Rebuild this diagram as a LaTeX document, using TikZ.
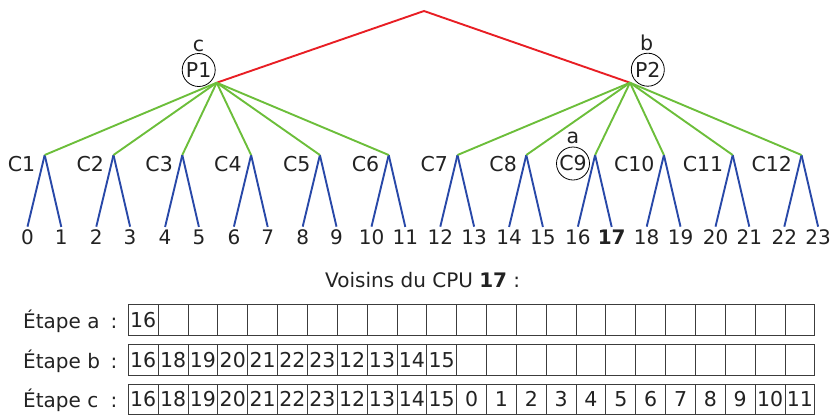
\documentclass[tikz,border=0pt]{standalone}
\usepackage{fontspec}
\setmainfont{DejaVu Sans}
\begin{document}
\begin{tikzpicture}[x=1pt,y=-1pt]
\definecolor{redline}{RGB}{232,30,36}
\definecolor{greenline}{RGB}{108,190,58}
\definecolor{blueline}{RGB}{40,72,168}
\definecolor{txt}{RGB}{34,34,34}
\definecolor{gridc}{RGB}{60,60,60}
\tikzset{
 treefont/.style={font=\fontsize{20.5}{25}\selectfont},
 lbl/.style={treefont, text=txt, inner sep=0pt, outer sep=0pt},
 leaf/.style={lbl, font=\fontsize{20}{24}\selectfont, inner sep=2.5pt, anchor=base},
 redl/.style={draw=redline, line width=1.9pt},
 greenl/.style={draw=greenline, line width=1.9pt},
 bluel/.style={draw=blueline, line width=1.9pt},
 ring/.style={circle, draw=black, line width=0.8pt, minimum size=33pt, inner sep=0pt, treefont, text=txt},
 cell/.style={draw=gridc, line width=0.9pt, minimum width=29.85pt, minimum height=30.5pt, inner sep=0pt, font=\fontsize{20.5}{24}\selectfont, text=txt},
 rowlbl/.style={font=\fontsize{20}{24}\selectfont, text=txt, inner sep=0pt},
}
\useasboundingbox (0,0) rectangle (830,416);
% top level
\coordinate (root) at (424,11);
\coordinate (p1j) at (216.7,82.7);
\coordinate (p2j) at (630,82.7);
\node[ring] (P1) at (198.7,70) {P1};
\node[ring] (P2) at (647.8,69.7) {P2};
\node[lbl, anchor=base] (lc) at (198.5,51) {c};
\node[lbl, anchor=base] (lb) at (646.5,50.7) {b};
\draw[redl] (p1j) -- (root) -- (p2j);
% second level
\foreach \i in {1,...,12} {
  \pgfmathsetmacro\cx{44.7+(\i-1)*68.8}
  \coordinate (cj\i) at (\cx,155);
  \ifnum\i=9
    \node[ring] (c\i) at (573,163.5) {C\i};
  \else
    \node[lbl, anchor=base east] (c\i) at (\cx-9.5,171) {C\i};
  \fi
  \pgfmathtruncatemacro\la{2*(\i-1)}
  \pgfmathtruncatemacro\lb{2*\i-1}
  \node[leaf] (l\la) at (\cx-17.2,244) {\la};
  \node[leaf] (l\lb) at (\cx+16.6,244) {\ifnum\lb=17 \textbf{17}\else\lb\fi};
  \draw[bluel] (cj\i) -- (l\la.north);
  \draw[bluel] (cj\i) -- (l\lb.north);
}
\node[lbl, anchor=base] (la) at (573,143.5) {a};
\foreach \i in {1,...,6} \draw[greenl] (p1j) -- (cj\i);
\foreach \i in {7,...,12} \draw[greenl] (p2j) -- (cj\i);
% table
\node[rowlbl, anchor=base west] (title) at (325,287.3) {Voisins du CPU \textbf{17} :};
\foreach \v [count=\k] in {16,18,19,20,21,22,23,12,13,14,15,0,1,2,3,4,5,6,7,8,9,10,11} {
  \pgfmathsetmacro\xx{128.3+(\k-0.5)*29.85}
  \node[cell] (ra\k) at (\xx,319.7) {\ifnum\k=1 \v\fi};
  \node[cell] (rb\k) at (\xx,359.7) {\ifnum\k<12 \v\fi};
  \node[cell] (rc\k) at (\xx,399.3) {\v};
}
\node[rowlbl, anchor=base west] (ea) at (23,328.2) {Étape a};
\node[rowlbl, anchor=base] (ka) at (114,328.2) {:};
\node[rowlbl, anchor=base west] (eb) at (23,368.2) {Étape b};
\node[rowlbl, anchor=base] (kb) at (114,368.2) {:};
\node[rowlbl, anchor=base west] (ec) at (23,407.8) {Étape c};
\node[rowlbl, anchor=base] (kc) at (114,407.8) {:};
\end{tikzpicture}
\end{document}
